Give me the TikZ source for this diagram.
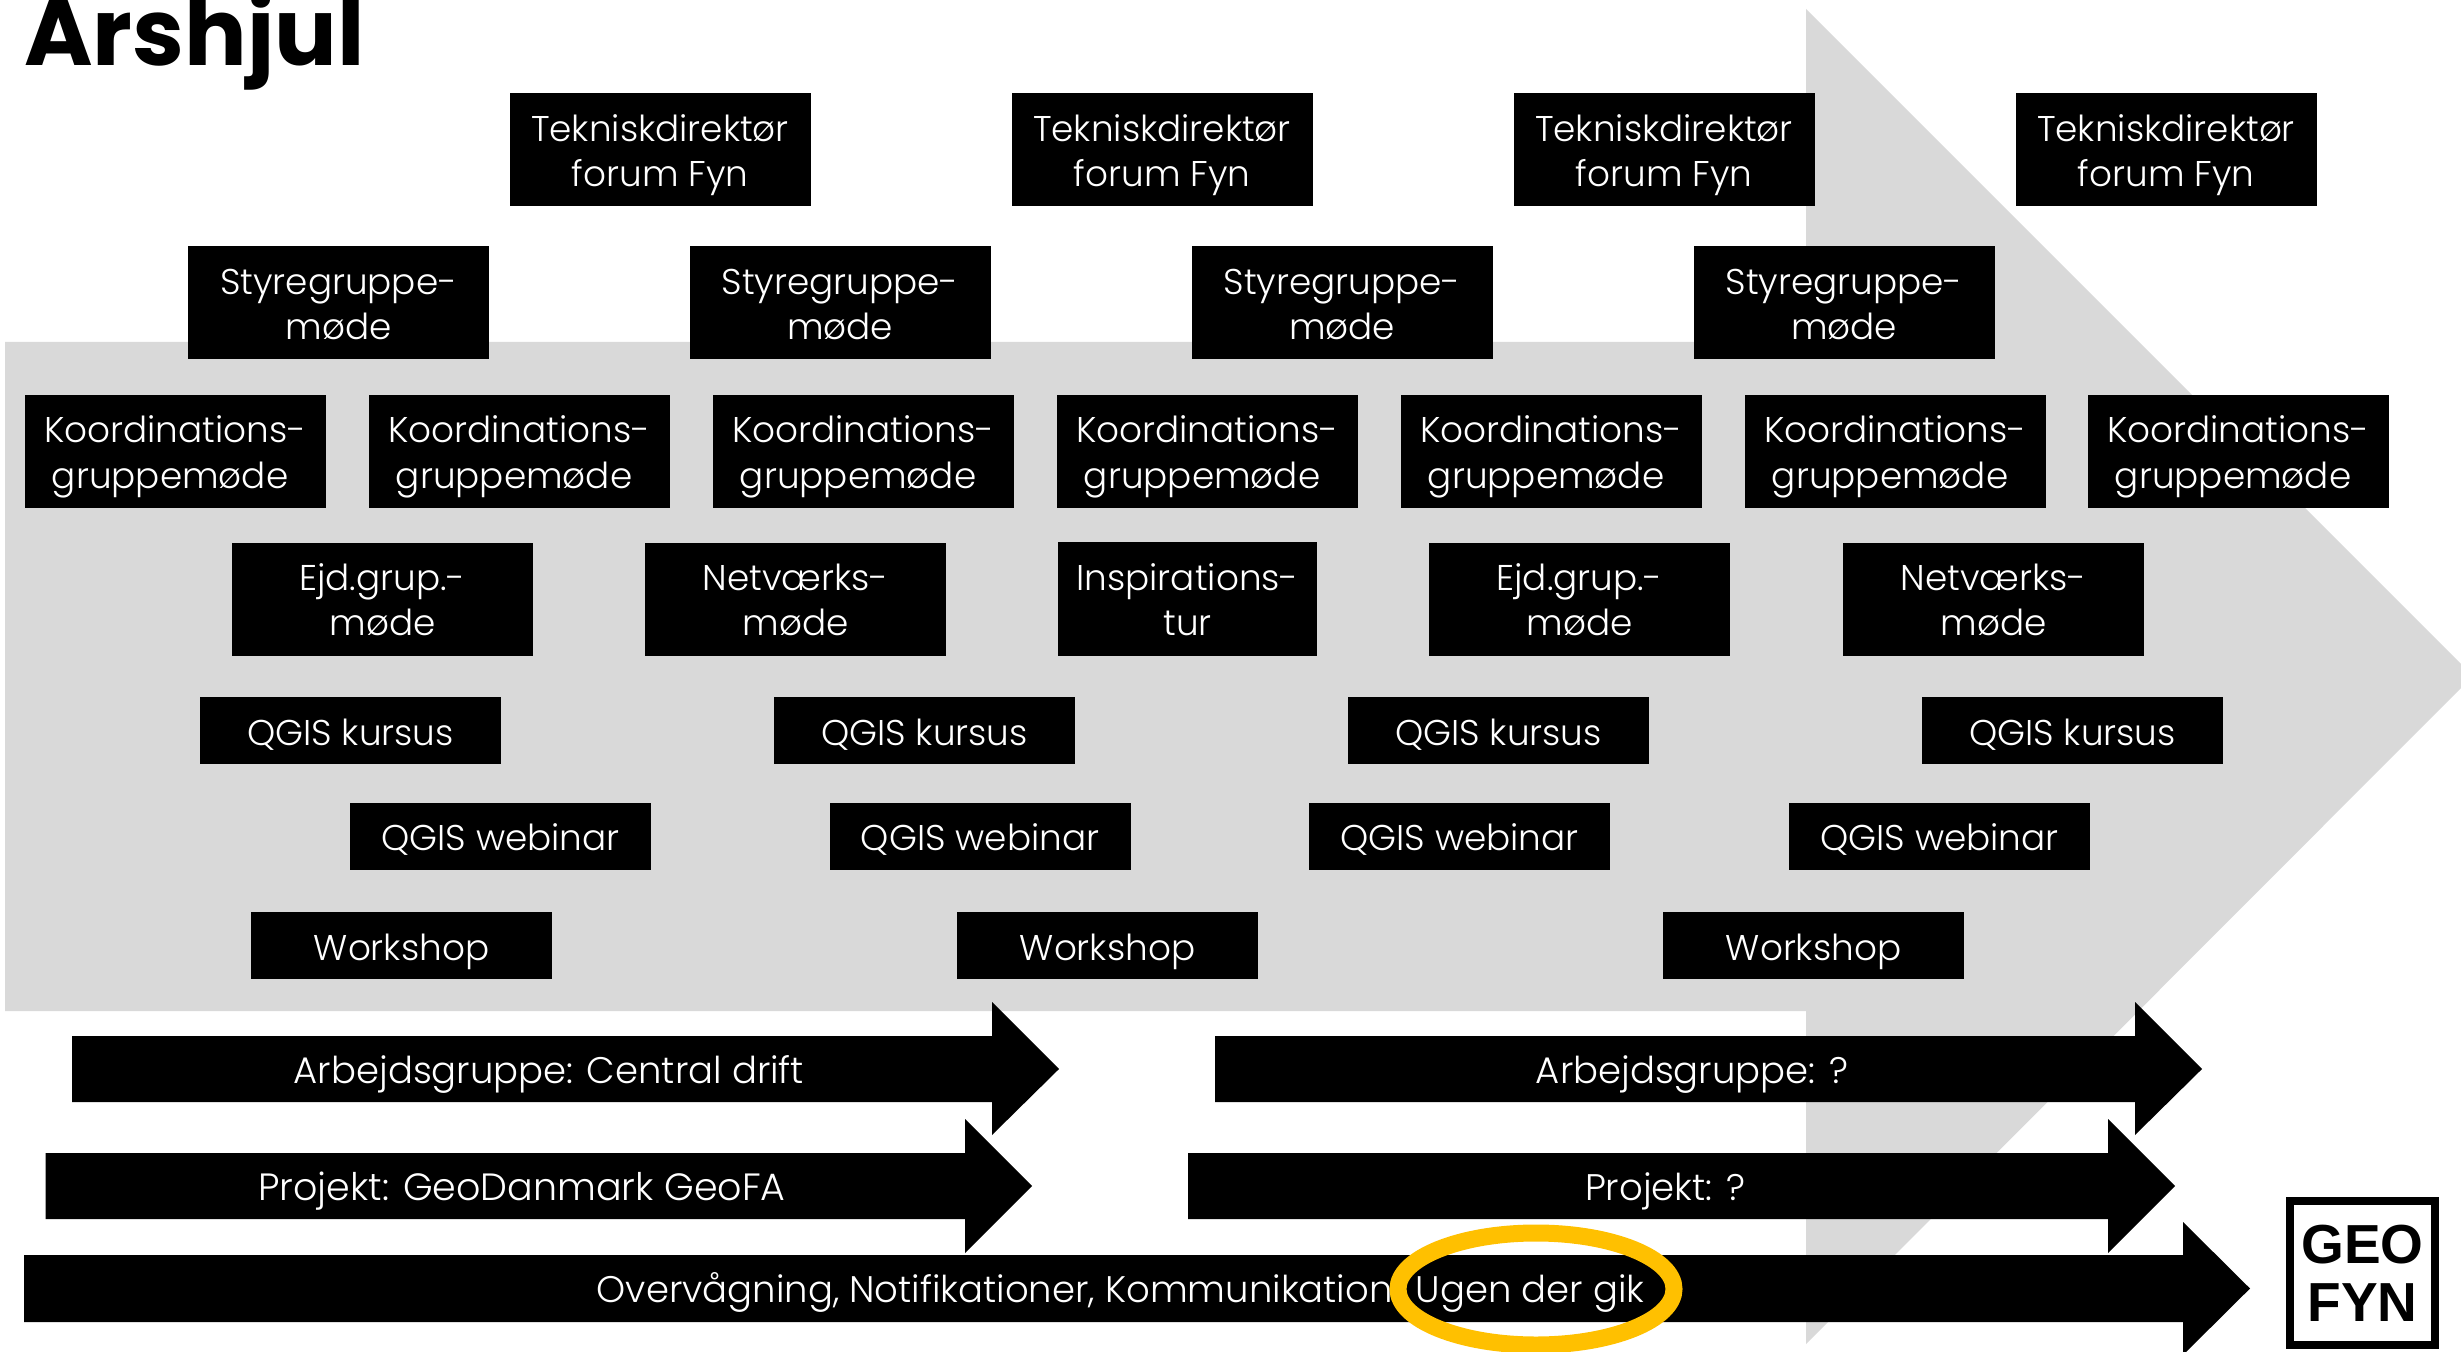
\documentclass[tikz,border=0pt]{standalone}
\usepackage{fontspec}
\setmainfont{Poppins}[UprightFont=* Light,BoldFont=* Bold]
\newfontfamily\logofont{Liberation Sans}
\usetikzlibrary{shapes.geometric}
\definecolor{bgarrow}{HTML}{D9D9D9}
\definecolor{ringcol}{HTML}{FFC000}
\newcommand{\twolines}[2]{\rule{0pt}{19.8pt}#1\\#2\rule[-6pt]{0pt}{0pt}}
\tikzset{
    centred/.style={execute at begin node={\rule{0pt}{20.6pt}}, execute at end node={\rule[-6pt]{0pt}{0pt}}},
    mbox/.style={fill=black, text=white, inner sep=0pt, align=center, minimum width=150.5pt, minimum height=56.5pt, font=\fontsize{17.9}{22.7}\selectfont},
    sbox/.style={mbox, centred, minimum height=33.5pt},
    bar/.style={fill=black},
    barlabel/.style={centred, text=white, inner sep=0pt, font=\fontsize{18.5}{22.7}\selectfont}
}
\begin{document}
\begin{tikzpicture}[x=0.5pt,y=-0.5pt]
    \useasboundingbox (0,0) rectangle (2461,1352);
    % big arrow behind everything
    \fill[bgarrow] (5,342) -- (1806,342) -- (1806,9) -- (2461,664) -- (2461,688) -- (1806,1344) -- (1806,1011) -- (5,1011) -- cycle;
    \node[anchor=base west, inner sep=0pt, font=\fontsize{46.5}{47}\selectfont\bfseries] (title) at (24,66) {Årshjul};
    % meetings
    \node[mbox] (t1) at (660,150) {\twolines{Tekniskdirektør}{forum Fyn}};
    \node[mbox] (t2) at (1162,150) {\twolines{Tekniskdirektør}{forum Fyn}};
    \node[mbox] (t3) at (1664,150) {\twolines{Tekniskdirektør}{forum Fyn}};
    \node[mbox] (t4) at (2166,150) {\twolines{Tekniskdirektør}{forum Fyn}};
    \node[mbox] (s1) at (338.5,303) {\twolines{Styregruppe-}{møde}};
    \node[mbox] (s2) at (840,303) {\twolines{Styregruppe-}{møde}};
    \node[mbox] (s3) at (1342,303) {\twolines{Styregruppe-}{møde}};
    \node[mbox] (s4) at (1844,303) {\twolines{Styregruppe-}{møde}};
    \node[mbox] (k1) at (175,451.5) {\twolines{Koordinations-}{gruppemøde\ }};
    \node[mbox] (k2) at (519,451.5) {\twolines{Koordinations-}{gruppemøde\ }};
    \node[mbox] (k3) at (863,451.5) {\twolines{Koordinations-}{gruppemøde\ }};
    \node[mbox] (k4) at (1207,451.5) {\twolines{Koordinations-}{gruppemøde\ }};
    \node[mbox] (k5) at (1551,451.5) {\twolines{Koordinations-}{gruppemøde\ }};
    \node[mbox] (k6) at (1895,451.5) {\twolines{Koordinations-}{gruppemøde\ }};
    \node[mbox] (k7) at (2238,451.5) {\twolines{Koordinations-}{gruppemøde\ }};
    \node[mbox] (e1) at (382.5,599) {\twolines{Ejd.grup.-}{møde}};
    \node[mbox] (n1) at (795.5,599) {\twolines{Netværks-}{møde}};
    \node[mbox, minimum width=129.5pt, minimum height=57pt] (i1) at (1187.5,599) {\twolines{Inspirations-}{tur}};
    \node[mbox] (e2) at (1579.5,599) {\twolines{Ejd.grup.-}{møde}};
    \node[mbox] (n2) at (1993.5,599) {\twolines{Netværks-}{møde}};
    \node[sbox] (q1) at (350.5,730.5) {QGIS kursus};
    \node[sbox] (q2) at (924.5,730.5) {QGIS kursus};
    \node[sbox] (q3) at (1498.5,730.5) {QGIS kursus};
    \node[sbox] (q4) at (2072.5,730.5) {QGIS kursus};
    \node[sbox] (w1) at (500.5,836) {QGIS webinar};
    \node[sbox] (w2) at (980,836) {QGIS webinar};
    \node[sbox] (w3) at (1459.5,836) {QGIS webinar};
    \node[sbox] (w4) at (1939.5,836) {QGIS webinar};
    \node[sbox] (o1) at (401.5,945.5) {Workshop};
    \node[sbox] (o2) at (1107.5,945.5) {Workshop};
    \node[sbox] (o3) at (1813.5,945.5) {Workshop};
    % bars
    \fill[bar] (72,1036) -- (992,1036) -- (992,1002) -- (1059,1069) -- (992,1135) -- (992,1102) -- (72,1102) -- cycle;
    \fill[bar] (1215,1036) -- (2135,1036) -- (2135,1002) -- (2202,1069) -- (2135,1135) -- (2135,1102) -- (1215,1102) -- cycle;
    \fill[bar] (45.5,1153) -- (965,1153) -- (965,1119) -- (1032,1186) -- (965,1253) -- (965,1219) -- (45.5,1219) -- cycle;
    \fill[bar] (1188,1153) -- (2108,1153) -- (2108,1119) -- (2175,1186) -- (2108,1253) -- (2108,1219) -- (1188,1219) -- cycle;
    \fill[bar] (24,1255) -- (2183,1255) -- (2183,1222) -- (2250,1288.5) -- (2183,1355) -- (2183,1322) -- (24,1322) -- cycle;
    \node[barlabel] (a1) at (549,1069) {Arbejdsgruppe: Central drift};
    \node[barlabel] (a2) at (1692,1069) {Arbejdsgruppe: ?};
    \node[barlabel, font=\fontsize{19}{22.7}\selectfont] (p1) at (522,1186) {Projekt: GeoDanmark GeoFA};
    \node[barlabel] (p2) at (1665,1186) {Projekt: ?};
    \node[barlabel, anchor=east] (c1) at (1393,1288) {Overvågning, Notifikationer, Kommunikation};
    \node[barlabel] (u1) at (1530,1288) {Ugen der gik};
    \node[ellipse, draw=ringcol, line width=8.5pt, minimum width=138pt, minimum height=56pt, inner sep=0pt] (ring) at (1536,1289) {};
    % logo
    \node[draw=black, line width=4pt, fill=white, align=center, inner sep=0pt, minimum width=72.5pt, minimum height=72pt, font=\logofont\bfseries\fontsize{27.5}{29}\selectfont] (logo) at (2362.5,1273) {GEO\\FYN};
\end{tikzpicture}
\end{document}
